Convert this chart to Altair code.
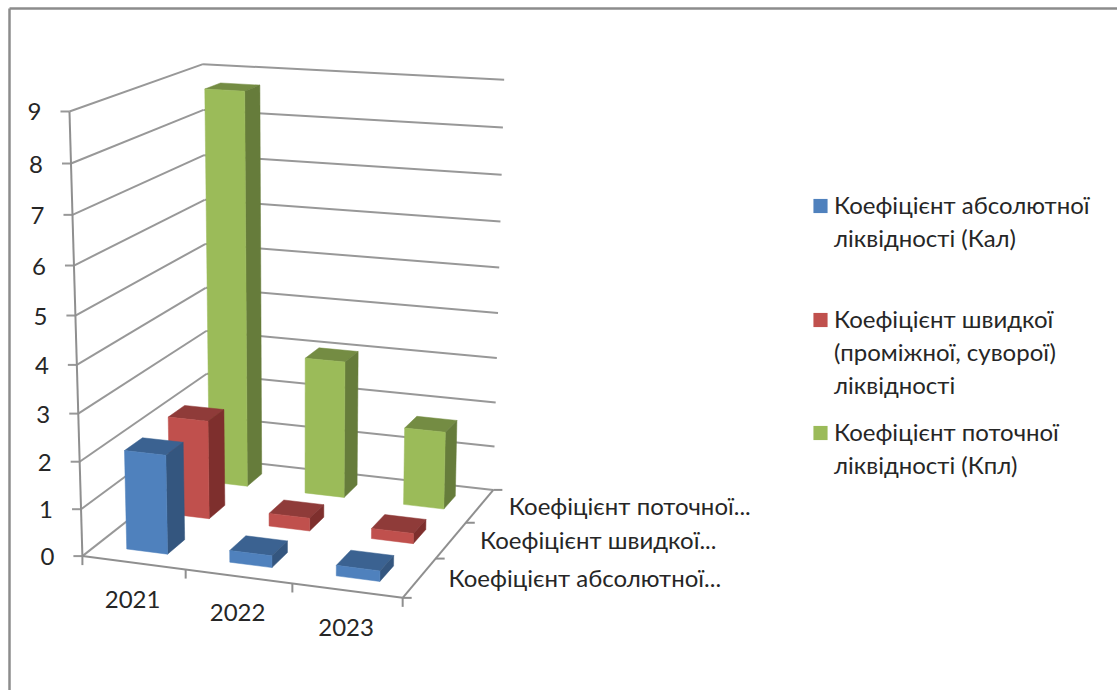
import altair as alt
import numpy as np

years = ["2021", "2022", "2023"]
depth_labels = ["Коефіцієнт абсолютної...", "Коефіцієнт швидкої...", "Коефіцієнт поточної..."]
absolute_ratio = [2.1, 0.25, 0.22]
quick_ratio = [2.15, 0.28, 0.22]
current_ratio = [8.72, 3.05, 1.72]
legend_lines = [
    ["Коефіцієнт абсолютної", "ліквідності (Кал)"],
    ["Коефіцієнт швидкої", "(проміжної, суворої)", "ліквідності"],
    ["Коефіцієнт поточної", "ліквідності (Кпл)"],
]
value_ticks = list(range(10))

FONT = "Lato"
FONT_SIZE = 24
TEXT_COLOR = "#262626"
FACE_COLORS = [
    ("#4F81BD", "#34567F", "#3B6291"),
    ("#C0504D", "#7E2F2D", "#8F3B39"),
    ("#9BBB59", "#667C3B", "#748C43"),
]
W, H = 1117, 690
BAR_SPAN = 0.4 / 3  # gap width of 150% along both floor directions

# Camera: least-squares projective map from (u, v, value) to the page.
anchors = [
    ((0, 0, 0), (81.5, 556)), ((1, 0, 0), (403, 598)), ((1, 1, 0), (492, 490)),
    ((0, 1, 0), (209, 458)), ((0, 0, 9), (70, 112)), ((0, 1, 9), (202, 64)),
    ((1, 1, 9), (504, 80)), ((0, 0, 5), (75.5, 315)), ((1, 1, 5), (500.5, 267)),
]
rows, rhs = [], []
for (u, v, h), (px, py) in anchors:
    rows.append([u, v, h, 1, 0, 0, 0, 0, -px * u, -px * v, -px * h])
    rows.append([0, 0, 0, 0, u, v, h, 1, -py * u, -py * v, -py * h])
    rhs += [px, py]
cam = np.append(np.linalg.lstsq(np.array(rows, float), np.array(rhs, float), rcond=None)[0], 1).reshape(3, 4)


def project(u, v, h):
    x, y, w = cam @ np.array([u, v, h, 1.0])
    return [float(x / w), float(y / w)]


def polygon(points, color):
    ring = [project(*p) for p in points]
    return {"type": "Feature", "properties": {"color": color},
            "geometry": {"type": "Polygon", "coordinates": [ring + ring[:1]]}}


def segment(a, b):
    return {"type": "Feature", "properties": {},
            "geometry": {"type": "LineString", "coordinates": [a, b]}}


def offset(p, dx, dy):
    return [p[0] + dx, p[1] + dy]


# Bars, painted from the back row to the front one.
faces = []
series = [absolute_ratio, quick_ratio, current_ratio]
for s in (2, 1, 0):
    front, side, top = FACE_COLORS[s]
    for c, value in enumerate(series[s]):
        u0, u1 = (c + 0.5) / 3 - BAR_SPAN / 2, (c + 0.5) / 3 + BAR_SPAN / 2
        v0, v1 = (s + 0.5) / 3 - BAR_SPAN / 2, (s + 0.5) / 3 + BAR_SPAN / 2
        faces.append(polygon([(u0, v0, value), (u1, v0, value), (u1, v1, value), (u0, v1, value)], top))
        faces.append(polygon([(u1, v0, 0), (u1, v1, 0), (u1, v1, value), (u1, v0, value)], side))
        faces.append(polygon([(u0, v0, 0), (u1, v0, 0), (u1, v0, value), (u0, v0, value)], front))

# Walls, floor edges and tick marks.
grid = []
for t in value_ticks:
    grid.append(segment(project(0, 0, t), project(0, 1, t)))
    grid.append(segment(project(0, 1, t), project(1, 1, t)))
    grid.append(segment(project(0, 0, t), offset(project(0, 0, t), -9, 0)))
axes = [
    segment(project(0, 0, 0), project(0, 0, 9)),
    segment(project(0, 0, 0), project(1, 0, 0)),
    segment(project(1, 0, 0), project(1, 1, 0)),
]
for k in range(4):
    axes.append(segment(project(k / 3, 0, 0), offset(project(k / 3, 0, 0), 0, 9)))
    axes.append(segment(project(1, k / 3, 0), offset(project(1, k / 3, 0), 9, 0)))

frame = [segment([9.5, 8.5], [W, 8.5]), segment([9.5, 8.5], [9.5, H])]

# Text placed relative to the projected axes.
texts = []
for t in value_ticks:
    p = project(0, 0, t)
    texts.append({"x": p[0] - 28, "y": p[1] + 2, "t": str(t), "a": "right"})
for c, year in enumerate(years):
    p = project((c + 0.5) / 3, 0, 0)
    texts.append({"x": p[0] - 1, "y": p[1] + 38, "t": year, "a": "center"})
for s, label in enumerate(depth_labels):
    p = project(1, (s + 0.5) / 3, 0)
    texts.append({"x": p[0] + 29, "y": p[1] + 2, "t": label, "a": "left"})

legend_text, legend_marks = [], []
legend_tops = [206, 320, 433]
for top, lines, faces_s in zip(legend_tops, legend_lines, FACE_COLORS):
    legend_marks.append({"x": 820.5, "y": top, "c": faces_s[0]})
    for i, line in enumerate(lines):
        legend_text.append({"x": 834, "y": top + 1 + i * 33, "t": line, "a": "left"})


def line_layer(features, color, width):
    return (
        alt.Chart(alt.Data(values=features))
        .mark_geoshape(filled=False, stroke=color, strokeWidth=width)
        .project(type="identity", scale=1, translate=[0, 0])
    )


face_layer = (
    alt.Chart(alt.Data(values=faces))
    .mark_geoshape(strokeWidth=0.5)
    .encode(
        fill=alt.Color("properties.color:N", scale=None),
        stroke=alt.Color("properties.color:N", scale=None),
    )
    .project(type="identity", scale=1, translate=[0, 0])
)


def text_layer(records, align):
    return (
        alt.Chart(alt.Data(values=records))
        .mark_text(font=FONT, fontSize=FONT_SIZE, color=TEXT_COLOR, align=align, baseline="middle")
        .encode(longitude="x:Q", latitude="y:Q", text="t:N")
        .project(type="identity", scale=1, translate=[0, 0])
    )


legend_squares = (
    alt.Chart(alt.Data(values=legend_marks))
    .mark_square(size=200, opacity=1)
    .encode(longitude="x:Q", latitude="y:Q", color=alt.Color("c:N", scale=None))
    .project(type="identity", scale=1, translate=[0, 0])
)

all_text = texts + legend_text
layers = [
    line_layer(frame, "#8C8C8C", 2.5),
    line_layer(grid, "#989898", 2),
    line_layer(axes, "#8F8F8F", 2),
    face_layer,
    legend_squares,
]
for align in ("right", "center", "left"):
    layers.append(text_layer([r for r in all_text if r["a"] == align], align))

chart = (
    alt.layer(*layers)
    .properties(width=W, height=H, padding=0, autosize=alt.AutoSizeParams(type="none"), background="white")
    .configure_view(stroke=None)
)

chart.save("out.html", embed_options={"renderer": "svg", "actions": False})
